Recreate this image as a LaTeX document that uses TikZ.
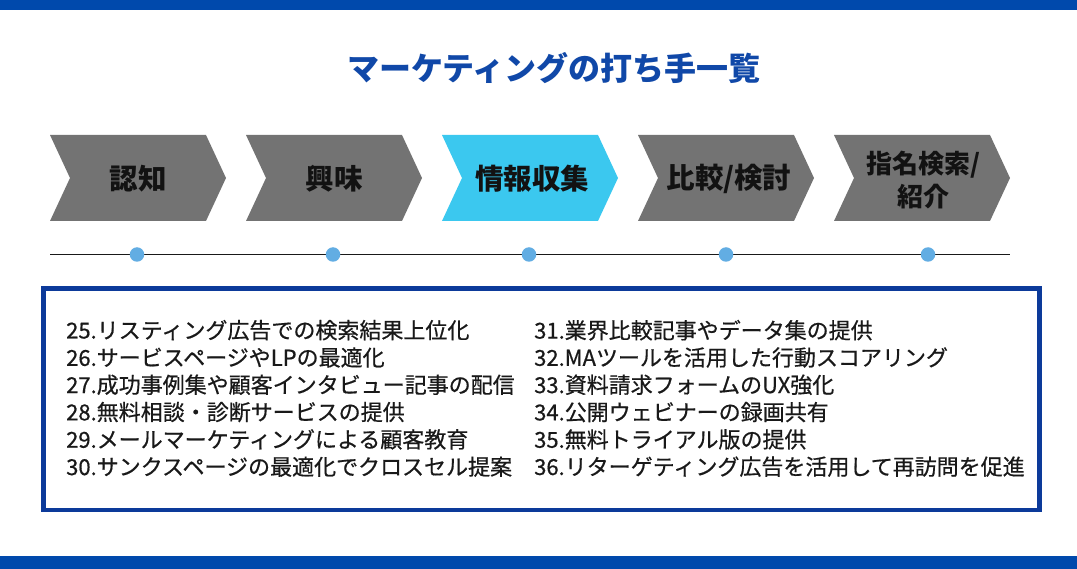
\documentclass[tikz,border=0pt]{standalone}
\usepackage{fontspec}
\setmainfont{Noto Sans CJK JP}
\newfontfamily\bodyfont[FakeBold=0.6]{Noto Sans CJK JP}
\usepackage{tikz}

\definecolor{barblue}{HTML}{0049AC}
\definecolor{titleblue}{HTML}{1048A8}
\definecolor{boxblue}{HTML}{0C3A9A}
\definecolor{chevgray}{HTML}{737373}
\definecolor{chevcyan}{HTML}{3BC8EF}
\definecolor{dotblue}{HTML}{62ADE3}

\tikzset{
  chevlabel/.style={font=\bfseries\fontsize{28.5}{33}\selectfont, text=black!93, align=center, inner sep=0},
  dot/.style={circle, fill=dotblue, minimum size=14.5pt, inner sep=0},
  item/.style={anchor=west, inner sep=0, font=\bodyfont\fontsize{22}{27.3}\selectfont, text=black!90},
}

\begin{document}
\begin{tikzpicture}[x=1pt, y=-1pt]
				\useasboundingbox (0,0) rectangle (1077,569);
				\fill[barblue] (0,0) rectangle (1077,10);
				\fill[barblue] (0,556) rectangle (1077,569);
				\node[font=\bfseries\fontsize{32}{38}\selectfont, text=titleblue, inner sep=0] (title) at (554,68) {マーケティングの打ち手一覧};
				% chevrons
				\foreach \x/\col in {50/chevgray, 246/chevgray, 442/chevcyan, 638/chevgray, 834/chevgray}
					\fill[\col] (\x,135) -- ++(156,0) -- ++(20,43) -- ++(-20,43) -- ++(-156,0) -- ++(20,-43) -- cycle;
				\node[chevlabel] (ninchi) at (138,179) {認知};
				\node[chevlabel] (kyoumi) at (334,179) {興味};
				\node[chevlabel] (jouhou) at (532,179) {情報収集};
				\node[chevlabel] (hikaku) at (729,179) {比較/検討};
				\node[chevlabel, font=\bfseries\fontsize{26}{33}\selectfont] (shimei) at (923,180) {指名検索/\\紹介};
				% timeline
				\coordinate (tlstart) at (50,254.5);
				\coordinate (tlend) at (1010,254.5);
				\draw[line width=1.5pt, black!90] (tlstart) -- (tlend);
				\foreach \x [count=\i] in {137,333,529,726,928}
					\node[dot] (d\i) at (\x,254.5) {};
				% list box
				\draw[line width=4.5pt, boxblue] (43.5,288.5) rectangle (1039.5,510);
				\foreach \t [count=\i] in {25.リスティング広告での検索結果上位化, 26.サービスページやLPの最適化, 27.成功事例集や顧客インタビュー記事の配信, 28.無料相談・診断サービスの提供, 29.メールマーケティングによる顧客教育, 30.サンクスページの最適化でクロスセル提案}
					\node[item] (l\i) at (66,{302.9+27.3*\i}) {\t};
				\foreach \t [count=\i] in {31.業界比較記事やデータ集の提供, 32.MAツールを活用した行動スコアリング, 33.資料請求フォームのUX強化, 34.公開ウェビナーの録画共有, 35.無料トライアル版の提供, 36.リターゲティング広告を活用して再訪問を促進}
					\node[item] (r\i) at (534,{302.9+27.3*\i}) {\t};
			\end{tikzpicture}
\end{document}
